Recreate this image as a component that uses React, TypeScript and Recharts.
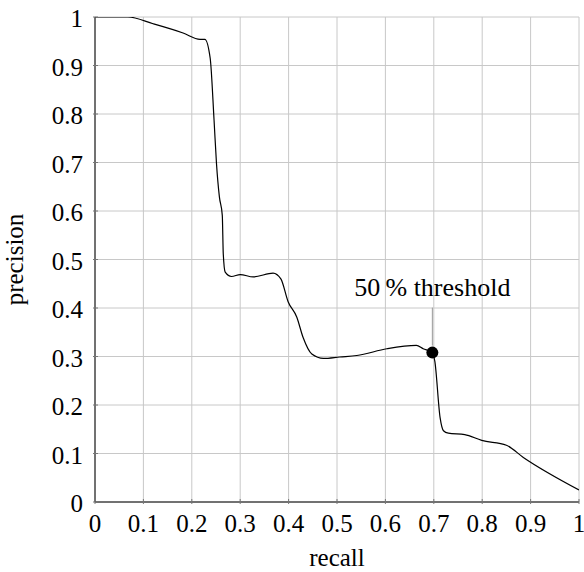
import { ComposedChart, Line, Scatter, XAxis, YAxis, CartesianGrid } from 'recharts';

const FONT = 'Liberation Serif, DejaVu Serif, Times New Roman, serif';
const textStyle = { fontFamily: FONT };

// precision/recall curve
const recallValues = [
  0, 0.068, 0.12, 0.182, 0.217, 0.227, 0.238, 0.246, 0.251, 0.257, 0.263, 0.265, 0.269,
  0.282, 0.3, 0.327, 0.368, 0.384, 0.399, 0.417, 0.43, 0.448, 0.472, 0.506, 0.541, 0.603,
  0.664, 0.678, 0.697, 0.702, 0.713, 0.72, 0.73, 0.764, 0.799, 0.85, 0.885, 1.0,
];
const precisionValues = [
  1, 1, 0.986, 0.967, 0.954, 0.954, 0.915, 0.787, 0.698, 0.629, 0.591, 0.512, 0.474,
  0.465, 0.469, 0.464, 0.472, 0.46, 0.413, 0.381, 0.339, 0.305, 0.296, 0.299, 0.302, 0.316,
  0.323, 0.316, 0.308, 0.291, 0.174, 0.147, 0.142, 0.139, 0.127, 0.117, 0.092, 0.025,
];

const thresholdRecall = [0.697];
const thresholdPrecision = [0.308];
const thresholdLabel = '50\u2009% threshold';

const tickValues = [0, 0.1, 0.2, 0.3, 0.4, 0.5, 0.6, 0.7, 0.8, 0.9, 1];

const curve = recallValues.map((r, i) => ({ recall: r, precision: precisionValues[i] }));
const threshold = thresholdRecall.map((r, i) => ({ recall: r, precision: thresholdPrecision[i] }));

const TICK_COLOR = '#777';

const BottomTick = (props: any) => {
  const { x, y, payload } = props;
  return (
    <g>
      <line x1={x} y1={y} x2={x} y2={y - 5} stroke={TICK_COLOR} />
      <text x={x} y={y + 28} textAnchor="middle" fontSize={25} style={textStyle} fill="#000">
        {String(payload.value)}
      </text>
    </g>
  );
};

const LeftTick = (props: any) => {
  const { x, y, payload } = props;
  return (
    <g>
      <line x1={x} y1={y} x2={x + 5} y2={y} stroke={TICK_COLOR} />
      <text x={x - 10} y={y + 10} textAnchor="end" fontSize={25} style={textStyle} fill="#000">
        {String(payload.value)}
      </text>
    </g>
  );
};

const TopTick = (props: any) => {
  const { x, y } = props;
  return <line x1={x} y1={y} x2={x} y2={y + 5} stroke={TICK_COLOR} />;
};

const RightTick = (props: any) => {
  const { x, y } = props;
  return <line x1={x} y1={y} x2={x - 5} y2={y} stroke={TICK_COLOR} />;
};

const XLabel = (props: any) => {
  const vb = props.viewBox || { x: 95, y: 502, width: 484, height: 70 };
  return (
    <text x={vb.x + vb.width / 2} y={vb.y + 64} textAnchor="middle" fontSize={25} style={textStyle} fill="#000">
      recall
    </text>
  );
};

const YLabel = (props: any) => {
  const vb = props.viewBox || { x: 35, y: 17, width: 60, height: 485 };
  const cx = vb.x - 12;
  const cy = vb.y + vb.height / 2;
  return (
    <text
      x={cx}
      y={cy}
      transform={`rotate(-90, ${cx}, ${cy})`}
      textAnchor="middle"
      fontSize={25}
      style={textStyle}
      fill="#000"
    >
      precision
    </text>
  );
};

const ThresholdMark = (props: any) => {
  const { cx, cy } = props;
  return (
    <g>
      <line x1={cx} y1={cy - 7} x2={cx} y2={cy - 45} stroke="#999" />
      <circle cx={cx} cy={cy} r={6} fill="#000" />
      <text x={cx} y={cy - 57} textAnchor="middle" fontSize={26} style={textStyle} fill="#000">
        {thresholdLabel}
      </text>
    </g>
  );
};

export default function App() {
  return (
    <div style={{ position: 'absolute', left: 0, top: 0, background: '#fff', fontFamily: FONT }}>
      <ComposedChart width={584} height={572} margin={{ top: 17, right: 5, bottom: 0, left: 35 }}>
        <CartesianGrid stroke="#c8c8c8" fill="none" />
        <XAxis
          dataKey="recall"
          type="number"
          domain={[0, 1]}
          ticks={tickValues}
          interval={0}
          allowDataOverflow
          height={70}
          tickSize={0}
          tickLine={false}
          axisLine={{ stroke: '#000' }}
          tick={<BottomTick />}
          label={<XLabel />}
        />
        <XAxis
          xAxisId="top"
          orientation="top"
          type="number"
          domain={[0, 1]}
          ticks={tickValues}
          interval={0}
          allowDataOverflow
          height={0}
          tickSize={0}
          tickLine={false}
          axisLine={{ stroke: '#000' }}
          tick={<TopTick />}
        />
        <YAxis
          type="number"
          domain={[0, 1]}
          ticks={tickValues}
          interval={0}
          allowDataOverflow
          width={60}
          tickSize={0}
          tickLine={false}
          axisLine={{ stroke: '#000' }}
          tick={<LeftTick />}
          label={<YLabel />}
        />
        <YAxis
          yAxisId="right"
          orientation="right"
          type="number"
          domain={[0, 1]}
          ticks={tickValues}
          interval={0}
          allowDataOverflow
          width={0}
          tickSize={0}
          tickLine={false}
          axisLine={{ stroke: '#000' }}
          tick={<RightTick />}
        />
        <Line
          data={curve}
          dataKey="precision"
          type="monotone"
          stroke="#000"
          strokeWidth={1.2}
          dot={false}
          activeDot={false}
          isAnimationActive={false}
        />
        <Scatter data={threshold} dataKey="precision" shape={<ThresholdMark />} isAnimationActive={false} />
      </ComposedChart>
    </div>
  );
}
